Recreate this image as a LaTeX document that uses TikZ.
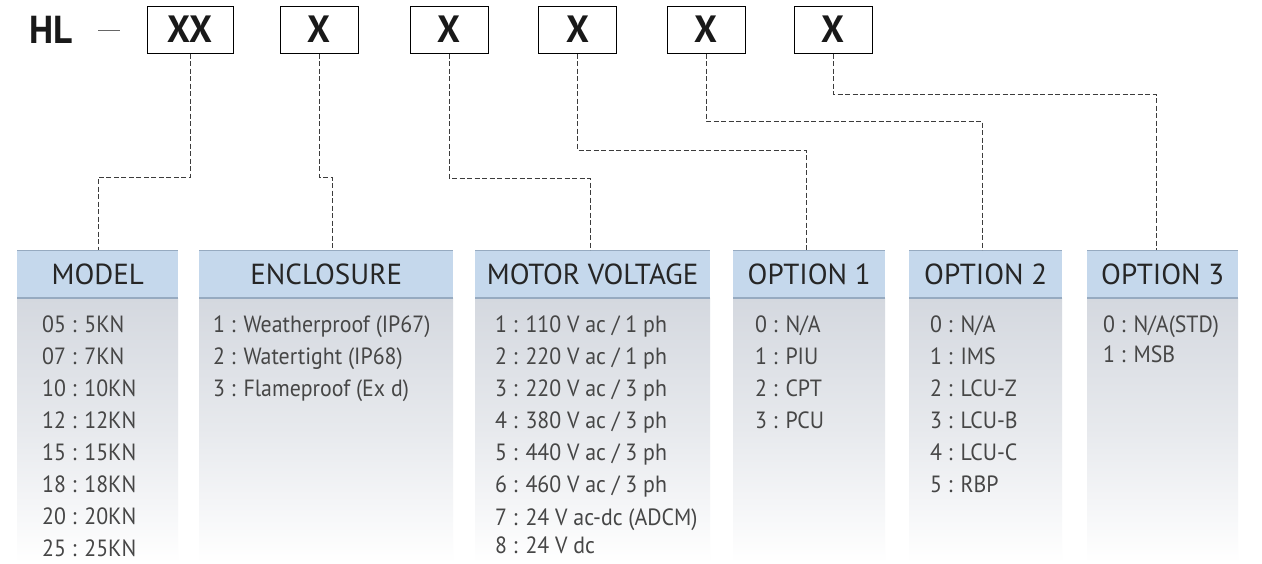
\documentclass[tikz,border=0pt]{standalone}
\usepackage{fontspec}
\setmainfont{PT Sans}
\newfontfamily\bodyfont{PT Sans}[FakeStretch=0.93]
\newfontfamily\hdrfont{PT Sans}[FakeStretch=1.0]
\newfontfamily\boldfont{PT Sans Bold}[FakeStretch=0.95]
\definecolor{hdrfill}{RGB}{197,216,236}
\definecolor{hdrline}{RGB}{150,170,192}
\definecolor{bodytop}{RGB}{212,216,223}
\definecolor{txtgray}{RGB}{70,70,70}
\definecolor{conncol}{RGB}{60,60,60}
\tikzset{
  codebox/.style={draw=black, line width=1pt, fill=white, minimum width=78pt, minimum height=47pt, inner sep=0pt, font=\boldfont\fontsize{38}{38}\selectfont, text=black!90},
  conn/.style={draw=conncol, line width=1pt, dash pattern=on 5pt off 2.5pt},
  hdr/.style={fill=hdrfill, minimum height=48pt, inner sep=0pt, anchor=north west, font=\hdrfont\fontsize{29}{29}\selectfont, text=black!85},
  row/.style={anchor=base west, inner sep=0pt, font=\bodyfont\fontsize{23.5}{23.5}\selectfont, text=txtgray},
}
\begin{document}
\begin{tikzpicture}[x=1pt,y=-1pt]
\useasboundingbox (0,0) rectangle (1262,563);
\fill[white] (0,0) rectangle (1262,563);
% top code line
\node[font=\boldfont\fontsize{39}{39}\selectfont, inner sep=0pt, text=black!90] (hl) at (51,30) {HL};
\draw[black!60, line width=1pt] (98,30) -- (120,30);
\node[codebox, minimum width=86pt] (b1) at (190,29.5) {XX};
\node[codebox] (b2) at (319,29.5) {X};
\node[codebox] (b3) at (449,29.5) {X};
\node[codebox] (b4) at (577.5,29.5) {X};
\node[codebox] (b5) at (706,29.5) {X};
\node[codebox] (b6) at (833,29.5) {X};
% tables: bodies
\foreach \xa/\xb in {17/178, 199/453, 475/710, 733/885, 909/1062, 1087/1238}{
  \shade[top color=bodytop, bottom color=white, middle color=bodytop!55!white] (\xa,298) rectangle (\xb,563);
}
% headers
\node[hdr, minimum width=161pt] (h1) at (17,250) {MODEL};
\node[hdr, minimum width=254pt] (h2) at (199,250) {ENCLOSURE};
\node[hdr, minimum width=235pt] (h3) at (475,250) {MOTOR VOLTAGE};
\node[hdr, minimum width=152pt] (h4) at (733,250) {OPTION 1};
\node[hdr, minimum width=153pt] (h5) at (909,250) {OPTION 2};
\node[hdr, minimum width=151pt] (h6) at (1087,250) {OPTION 3};
\foreach \h in {h1,h2,h3,h4,h5,h6}{
  \draw[hdrline, line width=1pt] (\h.north west) -- (\h.north east);
  \draw[hdrline, line width=2pt] (\h.south west) -- (\h.south east);
}
% connectors
\draw[conn] (b1.south) |- (98,177) -- (h1.north -| 98,0);
\draw[conn] (b2.south) |- (332,177) -- (h2.north -| 332,0);
\draw[conn] (b3.south) |- (590,178) -- (h3.north -| 590,0);
\draw[conn] (b4.south) |- (806,150) -- (h4.north -| 806,0);
\draw[conn] (b5.south) |- (982,121) -- (h5.north -| 982,0);
\draw[conn] (b6.south) |- (1156,94) -- (h6.north -| 1156,0);
% rows
\foreach \t [count=\i from 0] in {05 : 5KN, 07 : 7KN, 10 : 10KN, 12 : 12KN, 15 : 15KN, 18 : 18KN, 20 : 20KN, 25 : 25KN}{
  \node[row] (m\i) at (42,332+32*\i) {\t};
}
\node[row] (e1) at (213,332) {1 : Weatherproof (IP67)};
\node[row] (e2) at (213,364) {2 : Watertight (IP68)};
\node[row] (e3) at (213,396) {3 : Flameproof (Ex d)};
\foreach \t [count=\i from 0] in {1 : 110 V ac / 1 ph, 2 : 220 V ac / 1 ph, 3 : 220 V ac / 3 ph, 4 : 380 V ac / 3 ph, 5 : 440 V ac / 3 ph, 6 : 460 V ac / 3 ph}{
  \node[row] (v\i) at (495,332+32*\i) {\t};
}
\node[row] (v6) at (495,525) {7 : 24 V ac-dc (ADCM)};
\node[row] (v7) at (495,553) {8 : 24 V dc};
\foreach \t [count=\i from 0] in {0 : N/A, 1 : PIU, 2 : CPT, 3 : PCU}{
  \node[row] (p\i) at (755,332+32*\i) {\t};
}
\foreach \t [count=\i from 0] in {0 : N/A, 1 : IMS, 2 : LCU-Z, 3 : LCU-B, 4 : LCU-C, 5 : RBP}{
  \node[row] (q\i) at (930,332+32*\i) {\t};
}
\node[row] (r0) at (1103,332) {0 : N/A(STD)};
\node[row] (r1) at (1103,362) {1 : MSB};
\end{tikzpicture}
\end{document}
